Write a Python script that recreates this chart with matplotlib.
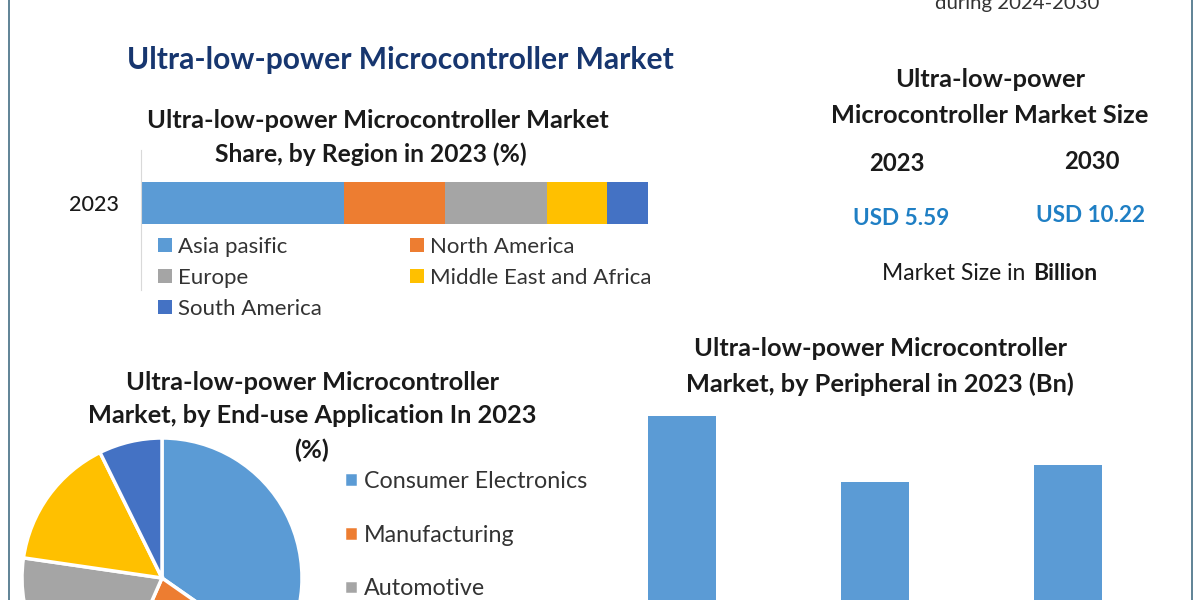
import matplotlib
matplotlib.use("Agg")
import matplotlib.pyplot as plt

plt.rcParams["font.family"] = ["Lato", "DejaVu Sans"]

W, H = 1200, 600

# stacked bar
regions = ["Asia pasific", "North America", "Europe", "Middle East and Africa", "South America"]
region_share = [40, 20, 20, 12, 8]
region_colors = ["#5b9bd5", "#ed7d31", "#a5a5a5", "#ffc000", "#4472c4"]

# pie
applications = ["Consumer Electronics", "Manufacturing", "Automotive"]
application_share = [34.7, 21.9, 20.7, 15.4, 7.3]
pie_colors = ["#5b9bd5", "#ed7d31", "#a5a5a5", "#ffc000", "#4472c4"]

# bars
peripheral_pos = [0, 1, 2]
peripheral_bn = [2.24, 1.58, 1.75]

size_years = ["2023", "2030"]
size_values = ["USD 5.59", "USD 10.22"]

DARK = "#1a1a1a"
BLUE = "#1f7fc4"
NAVY = "#17366f"


def px_axes(fig, left, top, right, bottom):
    # axes from pixel box, y counted from the top of the picture
    return fig.add_axes([left / W, 1 - bottom / H, (right - left) / W, (bottom - top) / H])


fig = plt.figure(figsize=(12, 6), dpi=100, facecolor="white")

bg = fig.add_axes([0, 0, 1, 1])
bg.set_xlim(0, W)
bg.set_ylim(H, 0)
bg.axis("off")
bg.axvline(9, color="#5f8396", lw=1.4)
bg.axvline(1192, color="#5f8396", lw=1.4)


def label(x, y, s, size=18.3, weight="bold", color=DARK, ha="center"):
    bg.text(x, y + 1.5, s, fontsize=size, fontweight=weight, color=color, ha=ha, va="center")


# this line is cut by the top edge in the reference as well
label(1017, 2, "during 2024-2030", size=14.7, weight="normal", color="#333333")
label(400, 59, "Ultra-low-power Microcontroller Market", size=21.6, color=NAVY)

label(378, 119, "Ultra-low-power Microcontroller Market")
label(371, 153, "Share, by Region in 2023 (%)", size=17.7)

label(990, 78, "Ultra-low-power")
label(990, 114, "Microcontroller Market Size")
label(897, 162, size_years[0], size=17.2)
label(1092, 160, size_years[1], size=17.2)
label(901, 217, size_values[0], size=16.2, color=BLUE)
label(1091, 214, size_values[1], size=16.2, color=BLUE)
label(1031, 272, "Market Size in ", size=16.5, weight="normal", ha="right")
label(1033, 272, "Billion", size=16.5, ha="left")

label(312, 381, "Ultra-low-power Microcontroller")
label(312, 414, "Market, by End-use Application In 2023")
label(312, 449, "(%)")

label(880, 347, "Ultra-low-power Microcontroller")
label(880, 383, "Market, by Peripheral in 2023 (Bn)")

# region share bar
ax1 = px_axes(fig, 141, 150, 648, 290)
left = 0
handles = []
for name, share, col in zip(regions, region_share, region_colors):
    handles.append(ax1.barh(0, share, left=left, height=0.3, color=col, label=name))
    left += share
ax1.set_xlim(0, 100)
ax1.set_ylim(-0.621, 0.379)
ax1.set_yticks([0])
ax1.set_yticklabels(["2023"], fontsize=15.5, color=DARK, fontweight="medium")
ax1.set_xticks([])
ax1.tick_params(axis="y", length=0, pad=16)
ax1.patch.set_alpha(0)
for side in ["top", "right", "bottom"]:
    ax1.spines[side].set_visible(False)
ax1.spines["left"].set_color("#d9d9d9")
order = [0, 2, 4, 1, 3]
ax1.legend([handles[i] for i in order], [regions[i] for i in order], ncol=2, frameon=False,
           loc="upper left", bbox_to_anchor=(0.034, 0.379), fontsize=16, labelcolor="#333333",
           handlelength=0.6, handleheight=0.6, handletextpad=0.27, labelspacing=0.5,
           columnspacing=4.0, borderpad=0, borderaxespad=0)

# end-use pie, runs off the bottom of the picture
ax2 = px_axes(fig, 22, 438, 302, 718)
wedges, _ = ax2.pie(application_share, colors=pie_colors, startangle=90, counterclock=False,
                    radius=1, wedgeprops=dict(edgecolor="white", linewidth=2.5))
ax2.set_xlim(-1, 1)
ax2.set_ylim(-1, 1)
fig.legend(wedges[:3], applications, frameon=False, loc="upper left",
           bbox_to_anchor=(344 / W, 1 - 471 / H), fontsize=16.75, labelcolor="#333333",
           handlelength=0.6, handleheight=0.6, handletextpad=0.25, labelspacing=1.4,
           borderpad=0, borderaxespad=0)

# peripheral bars, baseline is below the crop
ax3 = px_axes(fig, 585.5, 400, 1164.5, 640)
ax3.bar(peripheral_pos, peripheral_bn, width=0.355, color="#5b9bd5")
ax3.set_xlim(-0.5, 2.5)
ax3.set_ylim(0, 2.4)
ax3.axis("off")

fig.savefig("out.png", dpi=100)
